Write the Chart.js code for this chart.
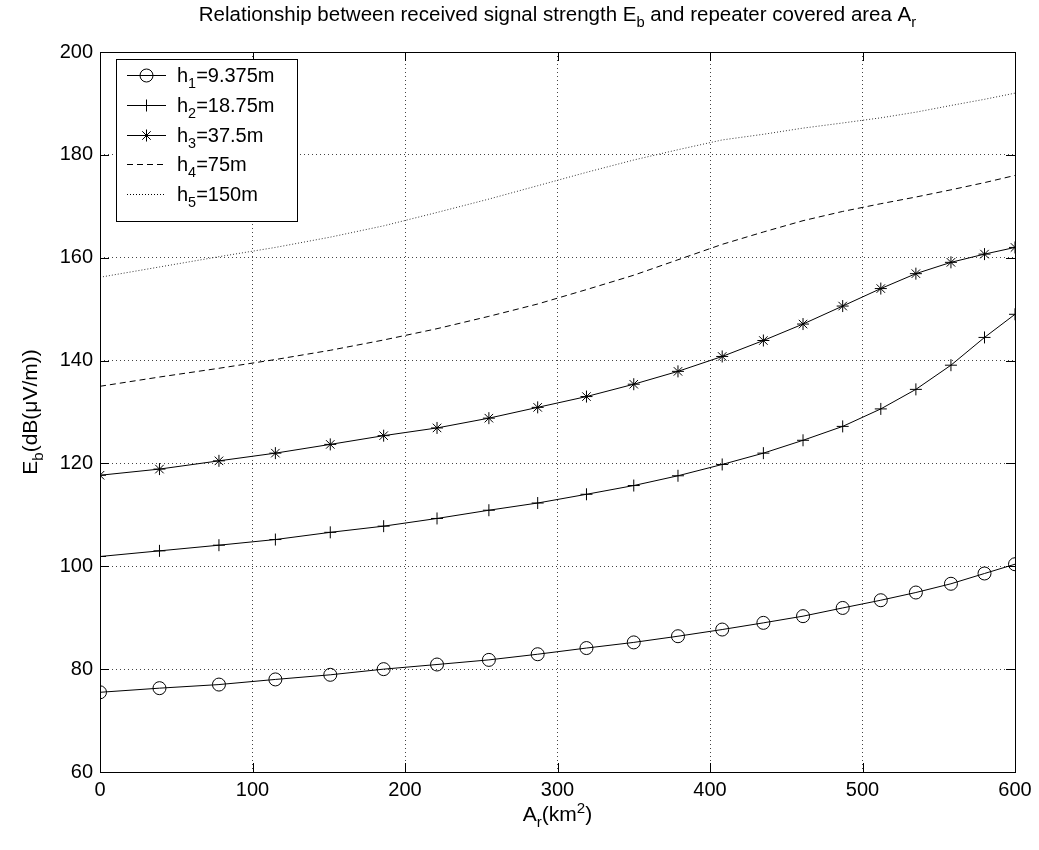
<!DOCTYPE html>
<html>
<head>
<meta charset="utf-8">
<script src="https://cdn.jsdelivr.net/npm/chart.js@4/dist/chart.umd.min.js"></script>
<style>
html, body { margin: 0; padding: 0; background: #fff; }
canvas { display: block; }
</style>
</head>
<body>
<canvas id="chart" width="1039" height="850"></canvas>
<script>
// repeater covered area A_r (km^2), sample points shared by all curves
const areas = [0, 39, 78, 115, 151, 186, 221, 255, 287, 319, 350, 379, 408, 435, 461, 487, 512, 535, 558, 580, 600]

// received signal strength E_b (dB(uV/m)) per antenna height
const h1 = [75.5, 76.3, 77.0, 78.0, 78.9, 80.0, 80.9, 81.8, 82.9, 84.1, 85.2, 86.4, 87.7, 89.0, 90.3, 91.9, 93.4, 94.9, 96.6, 98.6, 100.4]
const h2 = [101.9, 103.0, 104.1, 105.2, 106.6, 107.8, 109.3, 110.9, 112.3, 114.0, 115.7, 117.6, 119.8, 122.0, 124.5, 127.2, 130.6, 134.4, 139.1, 144.5, 149.0]
const h3 = [117.7, 118.9, 120.5, 122.0, 123.7, 125.4, 126.9, 128.8, 130.9, 133.0, 135.4, 137.9, 140.8, 143.9, 147.1, 150.6, 154.0, 156.9, 159.1, 160.7, 162.0]
const h4 = [135.0, 136.8, 138.5, 140.2, 142.0, 144.0, 146.2, 148.6, 151.0, 153.8, 156.6, 159.6, 162.6, 165.0, 167.2, 169.0, 170.5, 171.8, 173.2, 174.6, 176.0]
const h5 = [156.2, 158.2, 160.2, 162.0, 164.0, 166.2, 168.8, 171.4, 174.0, 176.6, 179.0, 181.0, 182.9, 184.0, 185.2, 186.2, 187.2, 188.3, 189.6, 190.8, 192.0]

// legend labels: [base, subscript, rest]
const legendLabels = [
    ['h', '1', '=9.375m'],
    ['h', '2', '=18.75m'],
    ['h', '3', '=37.5m'],
    ['h', '4', '=75m'],
    ['h', '5', '=150m'],
]

const xTicks = [0, 100, 200, 300, 400, 500, 600]
const yTicks = [60, 80, 100, 120, 140, 160, 180, 200]

const FONT = '"Liberation Sans", Arial, Helvetica, sans-serif'

function toPoints(ys) {
    return areas.map((a, i) => ({ x: a, y: ys[i] }))
}

// text made of parts {t, m}, m is '' / 'sub' / 'sup'
function richWidth(ctx, parts, size) {
    let w = 0
    for (const p of parts) {
        ctx.font = (p.m ? size * 0.72 : size) + 'px ' + FONT
        w += ctx.measureText(p.t).width
    }
    return w
}

function drawRich(ctx, parts, x, y, size, align) {
    let cx = x
    const total = richWidth(ctx, parts, size)
    if (align === 'center') cx = x - total / 2
    if (align === 'right') cx = x - total
    ctx.textAlign = 'left'
    ctx.textBaseline = 'alphabetic'
    for (const p of parts) {
        const s = p.m ? size * 0.72 : size
        ctx.font = s + 'px ' + FONT
        let dy = 0
        if (p.m === 'sub') dy = size * 0.3
        if (p.m === 'sup') dy = -size * 0.4
        ctx.fillText(p.t, cx, y + dy)
        cx += ctx.measureText(p.t).width
    }
}

function drawMarker(ctx, style, x, y, r) {
    ctx.beginPath()
    if (style === 'circle') {
        ctx.arc(x, y, r, 0, Math.PI * 2)
    } else if (style === 'cross' || style === 'star') {
        ctx.moveTo(x - r, y); ctx.lineTo(x + r, y)
        ctx.moveTo(x, y - r); ctx.lineTo(x, y + r)
        if (style === 'star') {
            const d = r * Math.SQRT1_2
            ctx.moveTo(x - d, y - d); ctx.lineTo(x + d, y + d)
            ctx.moveTo(x - d, y + d); ctx.lineTo(x + d, y - d)
        }
    }
    ctx.stroke()
}

const matlabFrame = {
    id: 'matlabFrame',
    afterDraw(chart) {
        const { ctx, chartArea: a, scales } = chart
        ctx.save()
        ctx.strokeStyle = '#000'
        ctx.fillStyle = '#000'
        ctx.lineWidth = 1

        // axes box
        ctx.strokeRect(Math.round(a.left) + 0.5, Math.round(a.top) + 0.5,
            Math.round(a.right - a.left), Math.round(a.bottom - a.top))

        // inward ticks on all four sides
        const tl = 9
        ctx.beginPath()
        for (const v of xTicks) {
            const px = Math.round(scales.x.getPixelForValue(v)) + 0.5
            ctx.moveTo(px, a.bottom); ctx.lineTo(px, a.bottom - tl)
            ctx.moveTo(px, a.top); ctx.lineTo(px, a.top + tl)
        }
        for (const v of yTicks) {
            const py = Math.round(scales.y.getPixelForValue(v)) + 0.5
            ctx.moveTo(a.left, py); ctx.lineTo(a.left + tl, py)
            ctx.moveTo(a.right, py); ctx.lineTo(a.right - tl, py)
        }
        ctx.stroke()

        // title
        drawRich(ctx, [
            { t: 'Relationship between received signal strength E' },
            { t: 'b', m: 'sub' },
            { t: ' and repeater covered area A' },
            { t: 'r', m: 'sub' },
        ], (a.left + a.right) / 2, 21, 20.5, 'center')

        // x axis title
        drawRich(ctx, [
            { t: 'A' }, { t: 'r', m: 'sub' }, { t: '(km' }, { t: '2', m: 'sup' }, { t: ')' },
        ], (a.left + a.right) / 2, 821, 21, 'center')

        // y axis title
        ctx.save()
        ctx.translate(37, (a.top + a.bottom) / 2)
        ctx.rotate(-Math.PI / 2)
        drawRich(ctx, [
            { t: 'E' }, { t: 'b', m: 'sub' }, { t: '(dB(\u03bcV/m))' },
        ], 0, 0, 21, 'center')
        ctx.restore()

        // legend
        const lx = 116, ly = 59, lw = 181, lh = 162
        ctx.fillStyle = '#fff'
        ctx.fillRect(lx, ly, lw, lh)
        ctx.strokeRect(lx + 0.5, ly + 0.5, lw, lh)
        ctx.fillStyle = '#000'
        chart.data.datasets.forEach((ds, i) => {
            const ry = 75 + i * 29.8
            ctx.save()
            ctx.strokeStyle = '#000'
            ctx.lineWidth = 1
            ctx.setLineDash(ds.borderDash || [])
            ctx.beginPath()
            ctx.moveTo(127, Math.round(ry) + 0.5)
            ctx.lineTo(166, Math.round(ry) + 0.5)
            ctx.stroke()
            ctx.setLineDash([])
            if (ds.pointRadius > 0) drawMarker(ctx, ds.pointStyle, 146.5, Math.round(ry) + 0.5, ds.pointRadius)
            ctx.restore()
            const lab = legendLabels[i]
            drawRich(ctx, [{ t: lab[0] }, { t: lab[1], m: 'sub' }, { t: lab[2] }], 177, ry + 7, 20, 'left')
        })
        ctx.restore()
    },
}

const lineBase = {
    borderColor: '#000',
    borderWidth: 1,
    backgroundColor: 'rgba(0,0,0,0)',
    pointBorderColor: '#000',
    pointBackgroundColor: 'rgba(0,0,0,0)',
    pointBorderWidth: 1,
    tension: 0,
    fill: false,
}

new Chart(document.getElementById('chart'), {
    type: 'line',
    data: {
        datasets: [
            { ...lineBase, label: 'h1=9.375m', data: toPoints(h1), pointStyle: 'circle', pointRadius: 6.5 },
            { ...lineBase, label: 'h2=18.75m', data: toPoints(h2), pointStyle: 'cross', pointRadius: 6 },
            { ...lineBase, label: 'h3=37.5m', data: toPoints(h3), pointStyle: 'star', pointRadius: 6 },
            { ...lineBase, label: 'h4=75m', data: toPoints(h4), pointRadius: 0, borderDash: [6, 4] },
            { ...lineBase, label: 'h5=150m', data: toPoints(h5), pointRadius: 0, borderDash: [1, 2], borderColor: '#333' },
        ],
    },
    options: {
        responsive: false,
        devicePixelRatio: 1,
        animation: false,
        layout: {
            padding: { top: 52, right: 24, left: 0, bottom: 0 },
        },
        plugins: {
            legend: { display: false },
            tooltip: { enabled: false },
            title: { display: false },
        },
        scales: {
            x: {
                type: 'linear',
                min: 0,
                max: 600,
                afterFit(scale) { scale.height = 78 },
                afterBuildTicks(scale) { scale.ticks = xTicks.map(v => ({ value: v })) },
                grid: { color: '#444', lineWidth: 1, drawTicks: false },
                border: { display: false, dash: [1, 3] },
                ticks: { color: '#000', font: { family: FONT, size: 20 }, padding: 6, maxRotation: 0 },
            },
            y: {
                type: 'linear',
                min: 60,
                max: 200,
                afterFit(scale) { scale.width = 100 },
                afterBuildTicks(scale) { scale.ticks = yTicks.map(v => ({ value: v })) },
                grid: { color: '#444', lineWidth: 1, drawTicks: false },
                border: { display: false, dash: [1, 3] },
                ticks: { color: '#000', font: { family: FONT, size: 20 }, padding: 7 },
            },
        },
    },
    plugins: [matlabFrame],
})
</script>
</body>
</html>
